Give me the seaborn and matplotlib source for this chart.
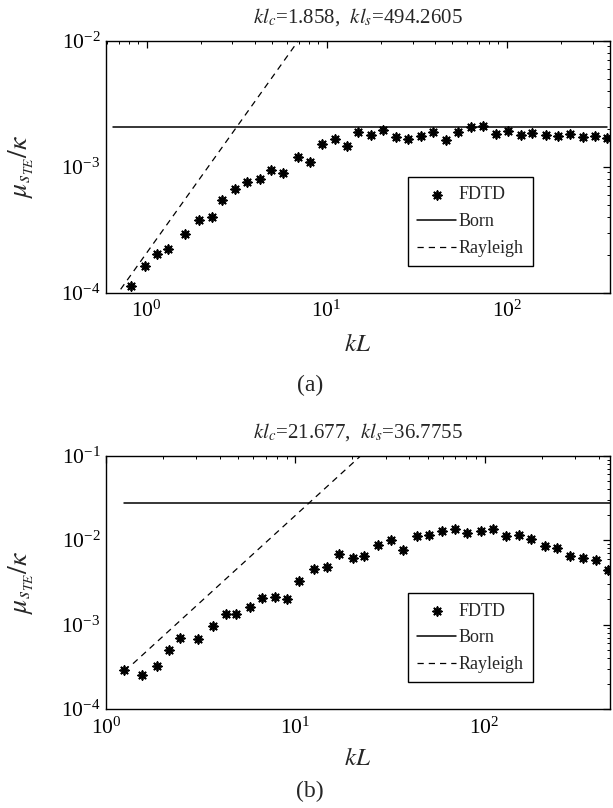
import numpy as np
import pandas as pd
import matplotlib
matplotlib.use("Agg")
import matplotlib.pyplot as plt
import seaborn as sns
from matplotlib.ticker import LogLocator, NullFormatter, LogFormatterMathtext

# ---------------- data: panel (a) ----------------
a_kL = [0.818, 0.98, 1.146, 1.31, 1.64, 1.96, 2.30, 2.64, 3.10, 3.59, 4.26, 4.92,
        5.74, 6.93, 8.07, 9.38, 11.07, 12.9, 15.0, 17.7, 20.6, 24.3, 28.4, 33.3,
        39.1, 45.8, 53.8, 63.4, 74.1, 86.9, 102, 120, 139, 165, 194, 225, 264, 310, 362]
a_fdtd = [1.13e-4, 1.63e-4, 2.02e-4, 2.21e-4, 2.92e-4, 3.78e-4, 4.0e-4, 5.45e-4,
          6.6e-4, 7.5e-4, 7.98e-4, 9.5e-4, 8.97e-4, 1.19e-3, 1.08e-3, 1.51e-3,
          1.65e-3, 1.46e-3, 1.90e-3, 1.79e-3, 1.95e-3, 1.73e-3, 1.66e-3, 1.75e-3,
          1.87e-3, 1.63e-3, 1.90e-3, 2.07e-3, 2.11e-3, 1.82e-3, 1.93e-3, 1.79e-3,
          1.84e-3, 1.79e-3, 1.75e-3, 1.82e-3, 1.73e-3, 1.75e-3, 1.68e-3]
a_born_x = [0.65, 362]
a_born_y = [2.06e-3, 2.06e-3]
a_ray_x = [0.66, 7.0]
a_ray_y = [9.0e-5, 1.01e-2]
a_title = r"$kl_c$=1.858,  $kl_s$=494.2605"

# ---------------- data: panel (b) ----------------
b_kL = [1.24, 1.55, 1.85, 2.15, 2.46, 3.07, 3.69, 4.28, 4.89, 5.77, 6.68, 7.85,
        9.08, 10.5, 12.5, 14.7, 17.1, 20.1, 23.0, 27.4, 32.0, 37.2, 43.7, 50.6,
        59.4, 69.5, 81.1, 95.3, 111, 130, 152, 176, 208, 242, 284, 333, 388, 451]
b_fdtd = [2.93e-4, 2.56e-4, 3.2e-4, 5.06e-4, 6.95e-4, 6.8e-4, 9.7e-4, 1.34e-3,
          1.34e-3, 1.6e-3, 2.07e-3, 2.13e-3, 2.01e-3, 3.32e-3, 4.57e-3, 4.78e-3,
          6.76e-3, 6.17e-3, 6.44e-3, 8.8e-3, 9.98e-3, 7.74e-3, 1.13e-2, 1.16e-2,
          1.27e-2, 1.37e-2, 1.22e-2, 1.30e-2, 1.34e-2, 1.11e-2, 1.16e-2, 1.02e-2,
          8.47e-3, 8.0e-3, 6.44e-3, 6.1e-3, 5.78e-3, 4.4e-3]
b_born_x = [1.24, 460]
b_born_y = [2.79e-2, 2.79e-2]
b_ray_x = [1.24, 1.40, 22.2]
b_ray_y = [2.9e-4, 3.5e-4, 1.0e-1]
b_title = r"$kl_c$=21.677,  $kl_s$=36.7755"

legend_labels = ["FDTD", "Born", "Rayleigh"]
ylabel = r"$\mu_{s_{TE}}/\kappa$"
xlabel = r"$kL$"

# ---------------- style ----------------
sns.set_theme(style="white")
plt.rcParams["font.family"] = ["Liberation Serif", "DejaVu Serif"]
plt.rcParams["mathtext.fontset"] = "stix"

W, H = 613, 808
fig = plt.figure(figsize=(W / 100, H / 100), dpi=100)
fig.patch.set_facecolor("white")

ax1 = fig.add_axes([106 / W, 1 - 292.7 / H, 504 / W, 252 / H])
ax2 = fig.add_axes([106 / W, 1 - 709 / H, 504 / W, 253.3 / H])

star = (8, 2, 0)


def draw(ax, kL, fdtd, bx, by, rx, ry, xlim, ylim):
    ax.set_xscale("log")
    ax.set_yscale("log")
    sns.scatterplot(x=kL, y=fdtd, marker=star, s=38, color="black",
                    edgecolor="black", linewidth=1.3, ax=ax,
                    label=legend_labels[0], zorder=3)
    sns.lineplot(x=bx, y=by, color="black", lw=1.1, ax=ax,
                 label=legend_labels[1], estimator=None, sort=False)
    sns.lineplot(x=rx, y=ry, color="black", lw=0.9, ax=ax,
                 label=legend_labels[2], estimator=None, sort=False,
                 linestyle=(0, (5, 4)))
    ax.set_xlim(*xlim)
    ax.set_ylim(*ylim)
    ax.set_xlabel("")
    ax.set_ylabel("")
    ax.xaxis.set_major_locator(LogLocator(base=10, numticks=10))
    ax.xaxis.set_minor_locator(LogLocator(base=10, subs=np.arange(2, 10), numticks=20))
    ax.yaxis.set_major_locator(LogLocator(base=10, numticks=10))
    ax.yaxis.set_minor_locator(LogLocator(base=10, subs=np.arange(2, 10), numticks=20))
    ax.xaxis.set_major_formatter(LogFormatterMathtext())
    ax.yaxis.set_major_formatter(LogFormatterMathtext())
    ax.xaxis.set_minor_formatter(NullFormatter())
    ax.yaxis.set_minor_formatter(NullFormatter())
    ax.tick_params(which="both", direction="in", top=True, right=True,
                   colors="black", labelsize=15.5)
    ax.tick_params(which="major", length=5, width=0.9)
    ax.tick_params(which="minor", length=2.5, width=0.7)
    ax.tick_params(axis="x", which="major", pad=6)
    ax.tick_params(axis="y", which="major", pad=4)
    for sp in ax.spines.values():
        sp.set_color("black")
        sp.set_linewidth(1.0)
        sp.set_visible(True)
    leg = ax.legend(loc="lower right", bbox_to_anchor=(0.847, 0.105),
                    frameon=True, fancybox=False, edgecolor="black",
                    framealpha=1, fontsize=13, handlelength=2.15,
                    borderpad=0.5, labelspacing=0.55, handletextpad=0.15,
                    borderaxespad=0)
    leg.get_frame().set_linewidth(1.0)


draw(ax1, a_kL, a_fdtd, a_born_x, a_born_y, a_ray_x, a_ray_y,
     (0.595, 375), (1e-4, 1e-2))
draw(ax2, b_kL, b_fdtd, b_born_x, b_born_y, b_ray_x, b_ray_y,
     (1.0, 460), (1e-4, 1e-1))

cx = (106 + 610) / 2 / W
fig.text(cx, 1 - 17 / H, a_title, ha="center", va="center", fontsize=15)
fig.text(cx, 1 - 432 / H, b_title, ha="center", va="center", fontsize=15)
fig.text(cx, 1 - 345 / H, xlabel, ha="center", va="center", fontsize=18)
fig.text(cx, 1 - 759 / H, xlabel, ha="center", va="center", fontsize=18)
fig.text(0.506, 1 - 385 / H, "(a)", ha="center", va="center", fontsize=17)
fig.text(0.506, 1 - 791 / H, "(b)", ha="center", va="center", fontsize=17)
fig.text(21 / W, 1 - 166 / H, ylabel, rotation=90, ha="center", va="center", fontsize=20)
fig.text(21 / W, 1 - 582 / H, ylabel, rotation=90, ha="center", va="center", fontsize=20)

fig.savefig("out.png", dpi=100, facecolor="white")
